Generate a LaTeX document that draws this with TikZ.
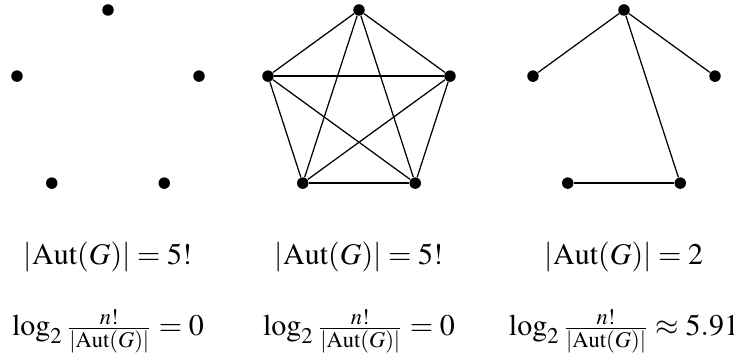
\documentclass[tikz,border=0pt,12pt]{standalone}
\usepackage{mathptmx}
\usetikzlibrary{calc}
\begin{document}
\begin{tikzpicture}[x=0.4pt,y=0.4pt,dot/.style={circle,fill,inner sep=0pt,minimum size=4.6pt}]
				\useasboundingbox (0,0) rectangle (734,360);
				\foreach \g/\c in {a/108,b/359,c/624}
					\foreach \i/\ang in {1/90,2/162,3/234,4/306,5/18}
						\node[dot] (\g\i) at ($(\c,254.3)+(\ang:95.7)$) {};
				% complete graph
				\foreach \x/\y in {b1/b2,b1/b3,b1/b4,b1/b5,b2/b3,b2/b4,b2/b5,b3/b4,b3/b5,b4/b5}
					\draw[line width=0.5pt] (\x) -- (\y);
				\foreach \x/\y in {c1/c2,c1/c5,c1/c4,c3/c4}
					\draw[line width=0.5pt] (\x) -- (\y);
				\foreach \g/\c/\r in {a/108/{=5!},b/359/{=5!},c/624/{=2}}
					\node[anchor=base] (aut\g) at (\c,95) {$|\mathrm{Aut}(G)|\r$};
				\foreach \g/\c/\r in {a/108/{=0},b/359/{=0},c/624/{\approx 5.91}}
					\node[anchor=base] (log\g) at (\c,24) {$\log_2\frac{n!}{|\mathrm{Aut}(G)|}\r$};
			\end{tikzpicture}
\end{document}
